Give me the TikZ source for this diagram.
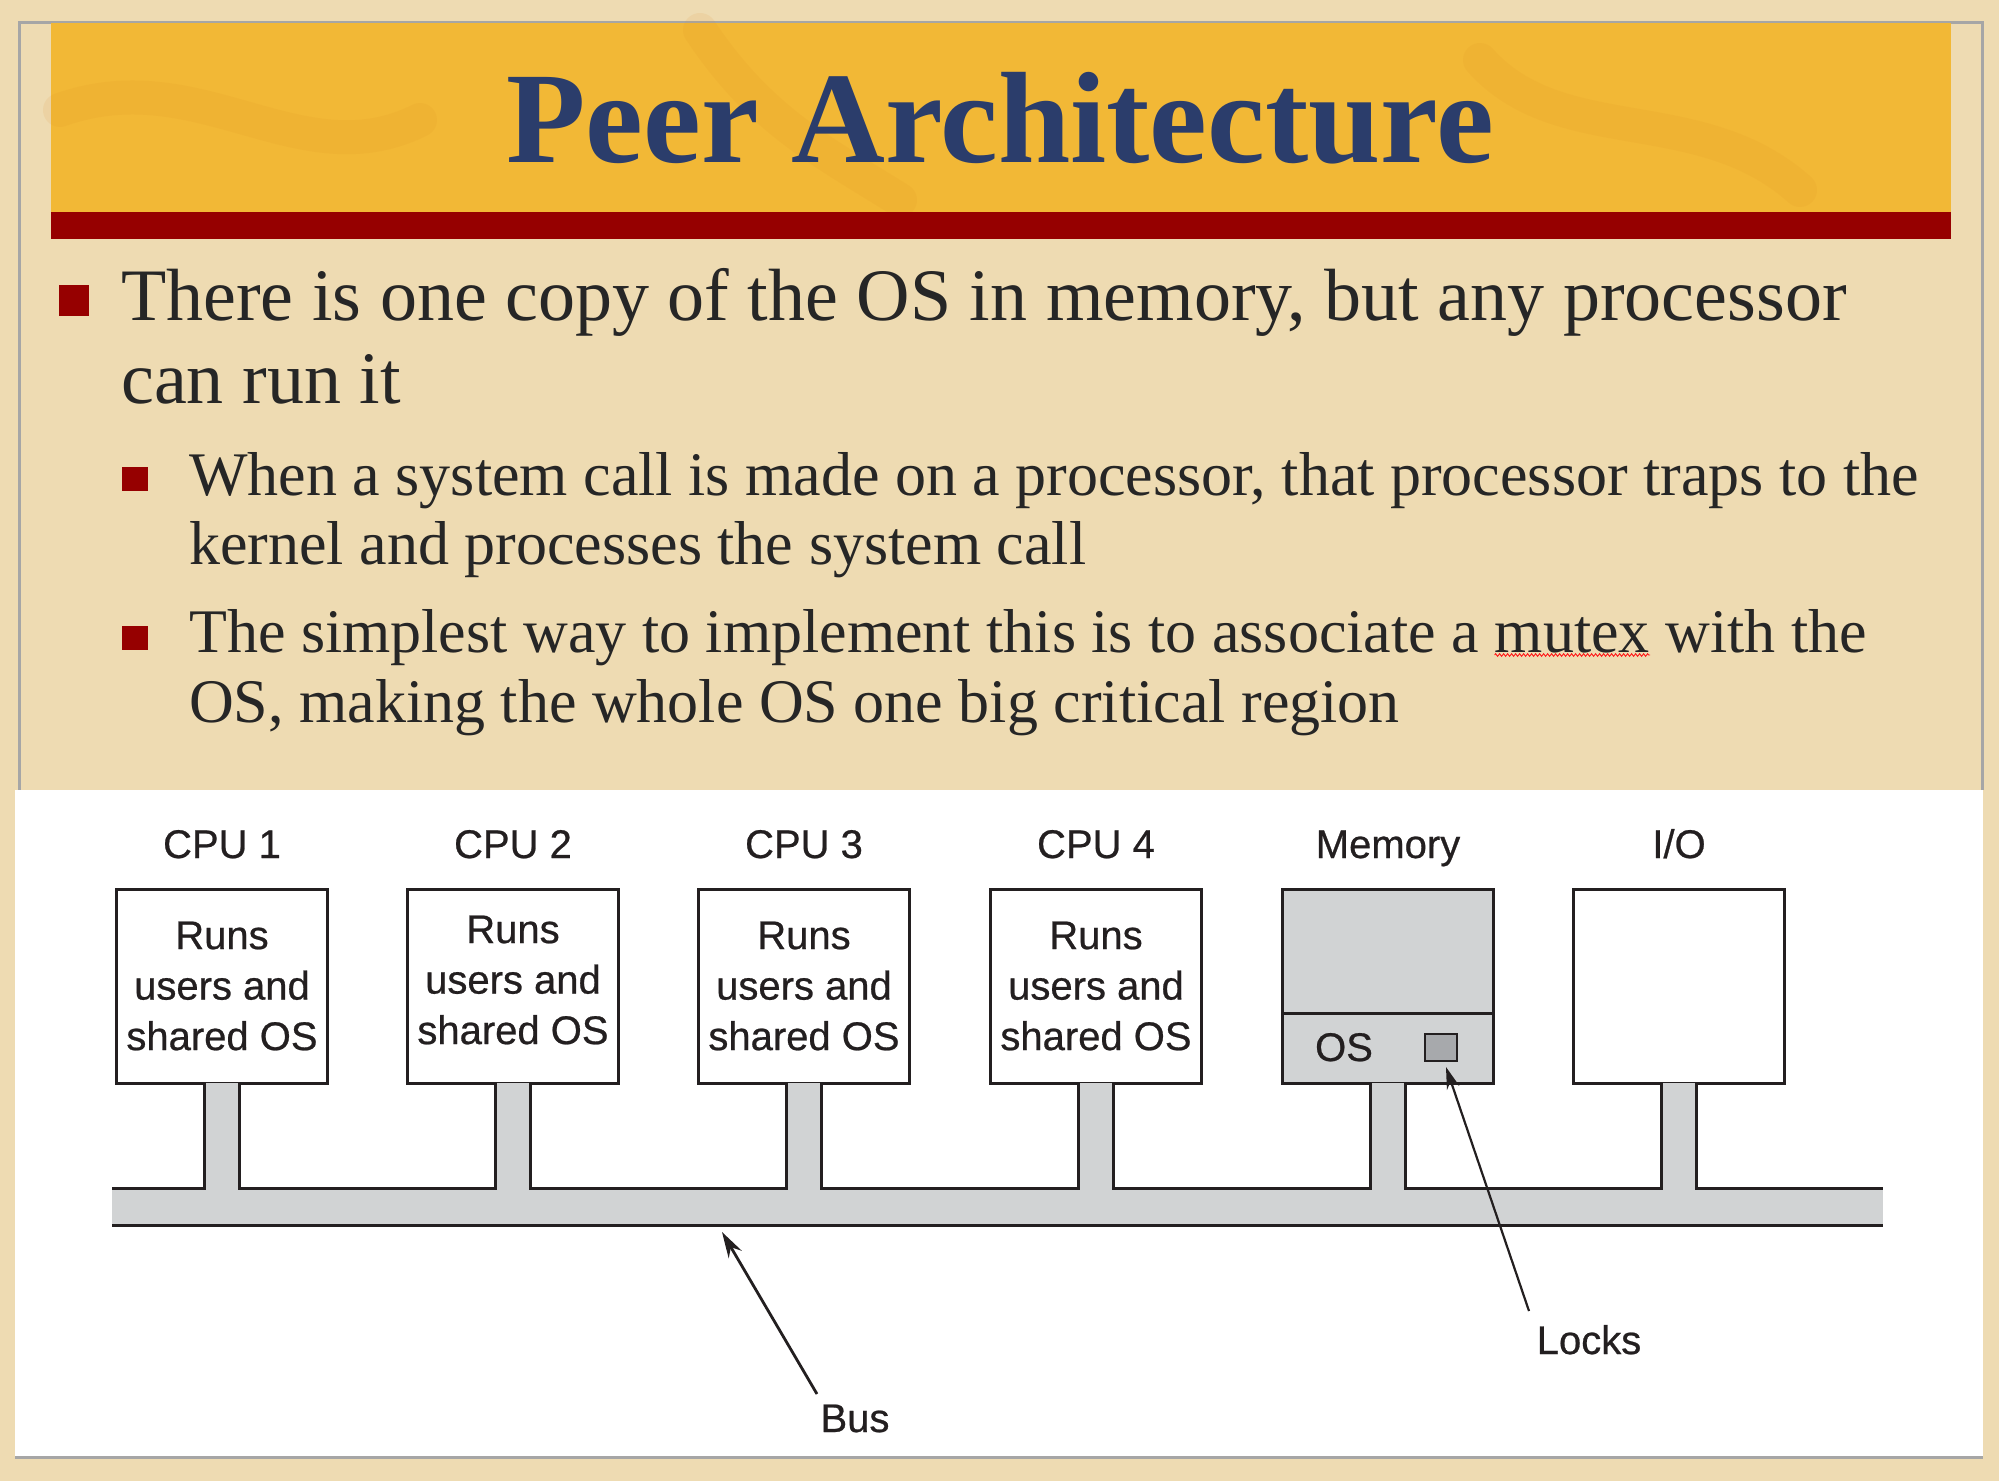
\documentclass[tikz,border=0pt]{standalone}
\usepackage{fontspec}
\setmainfont{Liberation Serif}
\newfontfamily\figfont{Liberation Sans}[FakeBold=0.6]
\usetikzlibrary{decorations.pathmorphing,arrows.meta}

\definecolor{parch}{HTML}{EEDBB2}
\definecolor{gold}{HTML}{F2B836}
\definecolor{orangey}{HTML}{DE8A22}
\definecolor{bandred}{HTML}{960000}
\definecolor{framegray}{HTML}{A6A6A6}
\definecolor{titleblue}{HTML}{2B3D6B}
\definecolor{bodytext}{HTML}{262626}
\definecolor{figgray}{HTML}{D1D3D4}
\definecolor{lockgray}{HTML}{A7A9AC}
\definecolor{figline}{HTML}{231F20}

\begin{document}
\begin{tikzpicture}[x=1pt,y=-1pt,
  unitbox/.style={draw=figline, line width=3pt, minimum width=211pt, minimum height=194pt,
    inner sep=0pt, outer sep=0pt, align=center,
    font=\figfont\fontsize{40}{50.5}\selectfont, text=figline},
  unittext/.style={inner sep=0pt, align=center, font=\figfont\fontsize{40}{50.5}\selectfont, text=figline},
  toplabel/.style={anchor=base, inner sep=0pt, font=\figfont\fontsize{40}{48}\selectfont, text=figline},
  mainline/.style={anchor=base west, inner sep=0pt, font=\fontsize{74}{83}\selectfont, text=bodytext},
  subline/.style={anchor=base west, inner sep=0pt, font=\fontsize{62}{69}\selectfont, text=bodytext},
  busline/.style={draw=figline, line width=3pt},
  pointer/.style={draw=figline, line width=2.8pt, -{Stealth[length=26pt,width=15pt]}},
  thinpointer/.style={draw=figline, line width=2.2pt, -{Stealth[length=22pt,width=13pt]}}
]
\useasboundingbox (0,0) rectangle (1999,1481);
\fill[parch] (0,0) rectangle (1999,1481);

% slide frame
\draw[framegray, line width=3pt] (19,790) -- (19,22) -- (1982,22) -- (1982,790);

% title banner
\fill[gold] (51,23) rectangle (1951,212);
\begin{scope}[opacity=0.10, line width=34pt, line cap=round, draw=orangey]
  \draw (60,110) .. controls (200,60) and (300,180) .. (420,120);
  \draw (1480,60) .. controls (1560,150) and (1700,100) .. (1800,190);
  \draw (700,30) .. controls (760,120) and (820,150) .. (900,200);
\end{scope}
\fill[bandred] (51,212) rectangle (1951,239);
\node[anchor=base, inner sep=0pt, font=\bfseries\fontsize{130}{130}\selectfont, text=titleblue]
  (title) at (1000,162) {Peer Architecture};

% bullets
\fill[bandred] (59,285) rectangle (89,316);
\node[mainline] (m1) at (121,320) {There is one copy of the OS in memory, but any processor};
\node[mainline] (m2) at (121,403) {can run it};

\fill[bandred] (122,467) rectangle (148,491);
\node[subline] (s1a) at (189,495) {When a system call is made on a processor, that processor traps to the};
\node[subline] (s1b) at (189,564) {kernel and processes the system call};

\fill[bandred] (122,626) rectangle (148,650);
\node[subline] (s2a) at (189,652) {The simplest way to implement this is to associate a};
\node[subline, xshift=15.5pt] (mx) at (s2a.base east) {mutex};
\node[subline, xshift=15.5pt] (s2c) at (mx.base east) {with the};
\node[subline] (s2b) at (189,722) {OS, making the whole OS one big critical region};
\draw[red!90!white, line width=0.9pt, decorate,
  decoration={zigzag, amplitude=1.3pt, segment length=4pt}]
  ([yshift=-3pt]mx.base west) -- ([yshift=-3pt]mx.base east);

% figure panel
\fill[framegray] (15,1456) rectangle (1983,1459);
\fill[white] (15,790) rectangle (1983,1456);

% units
\node[unitbox] (cpu1) at (222,986) {Runs\\users and\\shared OS};
\node[unitbox] (cpu2) at (513,986) {};
\node[unittext] (cpu2txt) at ([yshift=6pt]cpu2.center) {Runs\\users and\\shared OS};
\node[unitbox] (cpu3) at (804,986) {Runs\\users and\\shared OS};
\node[unitbox] (cpu4) at (1096,986) {Runs\\users and\\shared OS};
\node[unitbox, fill=figgray] (mem) at (1388,986) {};
\node[unitbox] (io) at (1679,986) {};

\draw[busline] ([yshift=70pt]mem.south west) -- ([yshift=70pt]mem.south east);
\node[toplabel] (oslbl) at (1344,1061) {OS};
\node[draw=figline, line width=2.5pt, fill=lockgray, minimum width=32pt, minimum height=27pt,
  inner sep=0pt, outer sep=0pt] (lock) at (1441,1047.5) {};

\node[toplabel] (c1lbl) at ([yshift=31pt]cpu1.north) {CPU 1};
\node[toplabel] (c2lbl) at ([yshift=31pt]cpu2.north) {CPU 2};
\node[toplabel] (c3lbl) at ([yshift=31pt]cpu3.north) {CPU 3};
\node[toplabel] (c4lbl) at ([yshift=31pt]cpu4.north) {CPU 4};
\node[toplabel] (memlbl) at ([yshift=31pt]mem.north) {Memory};
\node[toplabel] (iolbl) at ([yshift=31pt]io.north) {I/O};

% bus
\fill[figgray] (112,1188) rectangle (1883,1225);
\foreach \n in {cpu1,cpu2,cpu3,cpu4,mem,io}
  \fill[figgray] ([xshift=-17.5pt]\n.south) rectangle ([xshift=17.5pt,yshift=-106pt]\n.south);
\draw[busline] (112,1188) -| ([xshift=-17.5pt]cpu1.south);
\foreach \a/\b in {cpu1/cpu2,cpu2/cpu3,cpu3/cpu4,cpu4/mem,mem/io}
  \draw[busline] ([xshift=17.5pt]\a.south) -- ++(0,105) -| ([xshift=-17.5pt]\b.south);
\draw[busline] ([xshift=17.5pt]io.south) -- ++(0,105) -- (1883,1188);
\draw[busline] (112,1225) -- (1883,1225);

% pointers
\node[toplabel] (buslbl) at (855,1432) {Bus};
\node[toplabel] (lockslbl) at (1589,1354) {Locks};
\coordinate (bustail) at (817,1394);
\coordinate (bustip) at (722,1232);
\coordinate (lockstail) at (1529,1311);
\coordinate (lockstip) at (1446,1067);
\draw[pointer] (bustail) -- (bustip);
\draw[thinpointer] (lockstail) -- (lockstip);
\end{tikzpicture}
\end{document}
